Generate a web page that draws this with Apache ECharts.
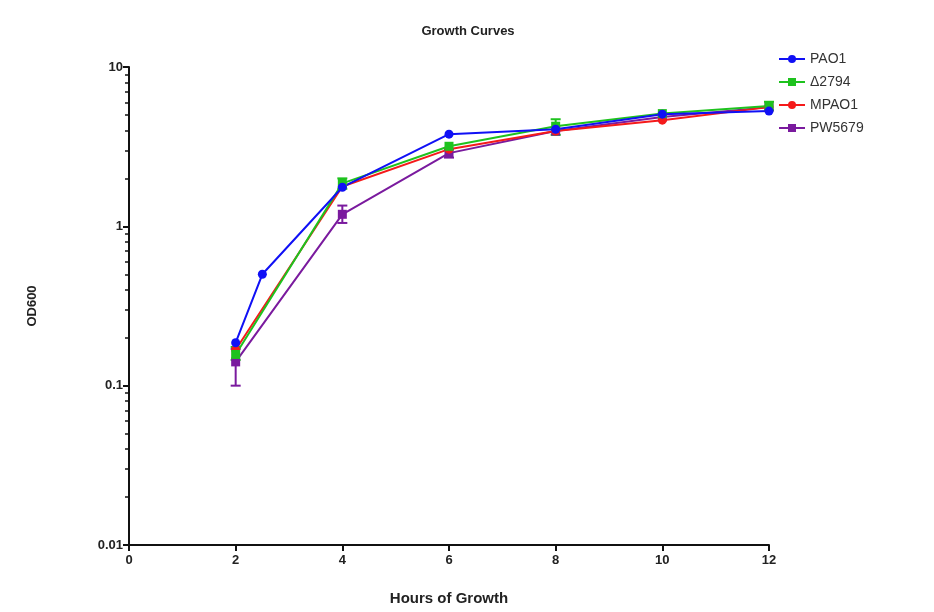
<!DOCTYPE html>
<html lang="en">
<head>
    <meta charset="UTF-8">
    <title>Growth Curves</title>
    <script src="https://cdn.jsdelivr.net/npm/echarts@6/dist/echarts.min.js"></script>
    <style>
        html, body { margin: 0; padding: 0; background: #fff; }
    </style>
</head>
<body>
<div id="main" style="width: 934px;height: 612px;"></div>
<script>
    // hours sampled
    var hours = [2, 4, 6, 8, 10, 12];
    var hoursPAO1 = [2, 2.5, 4, 6, 8, 10, 12];
    // OD600 values per strain
    var pao1 = [0.186, 0.50, 1.76, 3.79, 4.07, 5.06, 5.29];
    var d2794 = [0.157, 1.86, 3.18, 4.25, 5.10, 5.69];
    var mpao1 = [0.168, 1.78, 3.05, 3.96, 4.64, 5.60];
    var pw5679 = [0.141, 1.19, 2.88, 3.96, 4.85, 5.60];
    // error bars [hour, low, high, strain]
    var errBars = [
        [2, 0.10, 0.17, 'PW5679'],
        [4, 1.05, 1.35, 'PW5679'],
        [6, 2.70, 3.05, 'PW5679'],
        [4, 1.72, 2.00, 'Δ2794'],
        [8, 3.75, 4.70, 'Δ2794'],
        [12, 5.35, 6.05, 'Δ2794'],
        [2, 0.145, 0.175, 'Δ2794']
    ];
    var names = ['PAO1', 'Δ2794', 'MPAO1', 'PW5679'];
    var colors = ['#1010f5', '#1ec21e', '#f51a1a', '#7a1a9e'];

    function pairs(xs, ys) {
        var out = [];
        for (var i = 0; i < ys.length; i++) out.push([xs[i], ys[i]]);
        return out;
    }

    var myChart = echarts.init(document.getElementById('main'));

    var lineSeries = function (name, data, color, symbol) {
        return {
            name: name,
            type: 'line',
            data: data,
            symbol: symbol,
            symbolSize: 9,
            z: 3,
            lineStyle: { color: color, width: 2 },
            itemStyle: { color: color }
        };
    };

    var errSeries = {
        type: 'custom',
        z: 2,
        data: errBars,
        renderItem: function (params, api) {
            var x = api.value(0);
            var lo = api.coord([x, api.value(1)]);
            var hi = api.coord([x, api.value(2)]);
            var c = colors[names.indexOf(errBars[params.dataIndex][3])];
            var w = 5;
            var st = { stroke: c, lineWidth: 2 };
            return {
                type: 'group',
                children: [
                    { type: 'line', shape: { x1: lo[0], y1: lo[1], x2: hi[0], y2: hi[1] }, style: st },
                    { type: 'line', shape: { x1: lo[0] - w, y1: lo[1], x2: lo[0] + w, y2: lo[1] }, style: st },
                    { type: 'line', shape: { x1: hi[0] - w, y1: hi[1], x2: hi[0] + w, y2: hi[1] }, style: st }
                ]
            };
        }
    };

    var option = {
        animation: false,
        title: {
            text: 'Growth Curves',
            left: 463,
            textAlign: 'center',
            top: 20,
            textStyle: { fontFamily: 'Liberation Sans', fontSize: 13, fontWeight: 'bold', color: '#222' }
        },
        legend: {
            data: names,
            orient: 'vertical',
            left: 773,
            top: 47,
            itemWidth: 26,
            itemHeight: 10,
            itemGap: 9,
            textStyle: { fontFamily: 'Liberation Sans', fontSize: 14, color: '#333' }
        },
        grid: { left: 129, right: 165, top: 67, bottom: 67 },
        xAxis: {
            type: 'value',
            min: 0,
            max: 12,
            interval: 2,
            name: 'Hours of Growth',
            nameLocation: 'middle',
            nameGap: 46,
            nameTextStyle: { fontFamily: 'Liberation Sans', fontSize: 15, fontWeight: 'bold', color: '#222' },
            axisLine: { lineStyle: { color: '#111', width: 2 } },
            axisTick: { length: 6, lineStyle: { color: '#111', width: 2 } },
            axisLabel: { fontFamily: 'Liberation Sans', fontSize: 13, fontWeight: 'bold', color: '#222', margin: 9 },
            splitLine: { show: false }
        },
        yAxis: {
            type: 'log',
            logBase: 10,
            min: 0.01,
            max: 10,
            name: 'OD600',
            nameLocation: 'middle',
            nameRotate: 90,
            nameGap: 90,
            nameTextStyle: { fontFamily: 'Liberation Sans', fontSize: 13, fontWeight: 'bold', color: '#222' },
            axisLine: { show: true, lineStyle: { color: '#111', width: 2 } },
            axisTick: { show: true, length: 6, lineStyle: { color: '#111', width: 2 } },
            minorTick: { show: true, splitNumber: 9, length: 4, lineStyle: { color: '#111', width: 1.5 } },
            axisLabel: { fontFamily: 'Liberation Sans', fontSize: 13, fontWeight: 'bold', color: '#222', margin: 6 },
            splitLine: { show: false }
        },
        series: [
            errSeries,
            lineSeries('PW5679', pairs(hours, pw5679), colors[3], 'rect'),
            lineSeries('MPAO1', pairs(hours, mpao1), colors[2], 'circle'),
            lineSeries('Δ2794', pairs(hours, d2794), colors[1], 'rect'),
            lineSeries('PAO1', pairs(hoursPAO1, pao1), colors[0], 'circle')
        ]
    };
    myChart.setOption(option);
</script>
</body>
</html>
